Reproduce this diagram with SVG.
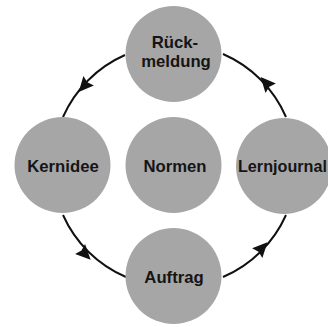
<svg xmlns="http://www.w3.org/2000/svg" width="328" height="327" viewBox="0 0 328 327">
<style>
.node{fill:#a6a6a6}
.lbl{font-family:"Liberation Sans",Arial,sans-serif;font-weight:bold;font-size:16.7px;fill:#151515;text-anchor:middle}
.arc{fill:none;stroke:#111;stroke-width:2}
.ah{fill:#111}
</style>
<defs>
<path id="ah" d="M8,0 L-7,-7 L-5,0 L-7,7 z"/>
</defs>
<rect width="328" height="327" fill="#fff"/>
<g id="connectors">
<path class="arc" d="M125,55 A121,121 0 0 0 63,117"/>
<path class="arc" d="M63,215 A121,121 0 0 0 126,277"/>
<path class="arc" d="M223,277 A121,121 0 0 0 286,215"/>
<path class="arc" d="M286,117 A121,121 0 0 0 223,54"/>
<use href="#ah" class="ah" transform="translate(84,86) rotate(131.6)"/>
<use href="#ah" class="ah" transform="translate(85,254) rotate(45.3)"/>
<use href="#ah" class="ah" transform="translate(262,248) rotate(-47)"/>
<use href="#ah" class="ah" transform="translate(266,83) rotate(-132)"/>
</g>
<g id="rueckmeldung">
<circle class="node" cx="173.5" cy="54" r="48"/>
<text class="lbl" x="175" y="48">Rück-</text>
<text class="lbl" x="176" y="67">meldung</text>
</g>
<g id="kernidee">
<circle class="node" cx="62.5" cy="165" r="48"/>
<text class="lbl" x="63" y="172">Kernidee</text>
</g>
<g id="normen">
<circle class="node" cx="173.5" cy="165" r="48"/>
<text class="lbl" x="175" y="171.5">Normen</text>
</g>
<g id="lernjournal">
<circle class="node" cx="284" cy="166" r="48"/>
<text class="lbl" x="282.5" y="172" style="font-size:16.2px">Lernjournal</text>
</g>
<g id="auftrag">
<circle class="node" cx="173.5" cy="276" r="48"/>
<text class="lbl" x="174" y="283">Auftrag</text>
</g>
</svg>
